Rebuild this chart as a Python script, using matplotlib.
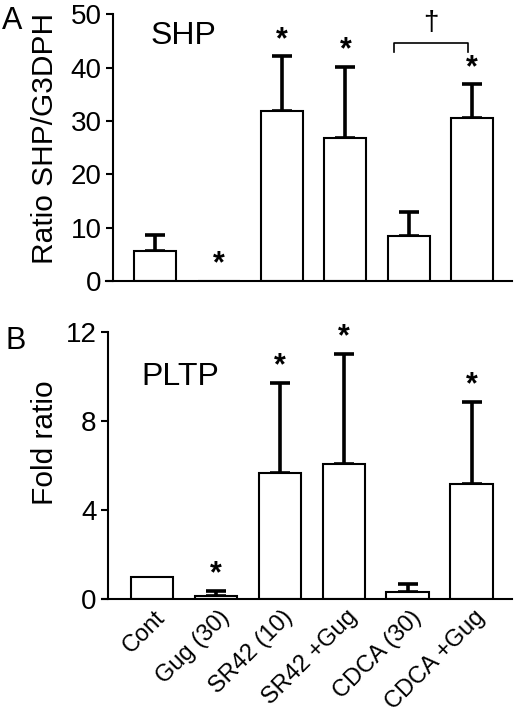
import matplotlib.pyplot as plt
import numpy as np

plt.rcParams['font.family'] = ['Liberation Sans', 'DejaVu Sans']

categories = ['Cont', 'Gug (30)', 'SR42 (10)', 'SR42 +Gug', 'CDCA (30)', 'CDCA +Gug']

# panel A: SHP
shp_mean = [5.7, 0.0, 31.9, 26.9, 8.4, 30.6]
shp_err = [2.9, 0.0, 10.2, 13.2, 4.6, 6.3]
shp_star = [False, True, True, True, False, True]

# panel B: PLTP
pltp_mean = [1.0, 0.16, 5.66, 6.05, 0.33, 5.18]
pltp_err = [0.0, 0.21, 4.05, 4.95, 0.34, 3.68]
pltp_star = [False, True, True, True, False, True]

x = np.arange(len(categories))

fig = plt.figure(figsize=(5.17, 7.16), dpi=100)
axA = fig.add_axes([0.205, 0.6075, 0.785, 0.3725])
axB = fig.add_axes([0.197, 0.163, 0.793, 0.374])


def draw_panel(ax, means, errs, stars, ymax, yticks, ylabel, spine_x):
    ax.bar(x, means, width=0.66, color='white', edgecolor='black',
           linewidth=1.5, zorder=2)
    for xi, m, e in zip(x, means, errs):
        if e > 0:
            ax.errorbar(xi, m, yerr=[[0], [e]], fmt='none', ecolor='black',
                        elinewidth=2.6, capsize=7, capthick=2.6, zorder=1)
    for xi, m, e, s in zip(x, means, errs, stars):
        if s:
            ax.annotate('*', xy=(xi, m + e), xytext=(0, 1),
                        textcoords='offset points', ha='center', va='bottom',
                        fontsize=22, fontweight='bold')
    ax.set_xlim(-0.78, 5.63)
    ax.set_ylim(0, ymax)
    ax.set_yticks(yticks)
    ax.set_xticks([])
    ax.spines['top'].set_visible(False)
    ax.spines['right'].set_visible(False)
    ax.spines['left'].set_position(('data', spine_x))
    ax.spines['left'].set_linewidth(1.5)
    ax.spines['bottom'].set_linewidth(1.5)
    ax.spines['left'].set_bounds(0, ymax)
    ax.tick_params(axis='y', direction='out', length=5, width=1.5,
                   labelsize=20, pad=3)
    ax.set_ylabel(ylabel, fontsize=21.5)


draw_panel(axA, shp_mean, shp_err, shp_star, 50, [0, 10, 20, 30, 40, 50],
           'Ratio SHP/G3DPH', -0.67)
axA.yaxis.set_label_coords(-0.115, 0.536)
axA.text(0.45, 45.9, 'SHP', fontsize=23, ha='center', va='center')

# bracket over CDCA groups
bx0, bx1 = 3.77, 4.93
axA.plot([bx0, bx0, bx1, bx1], [42.9, 44.6, 44.6, 42.9], color='black', lw=1.2)
axA.text((bx0 + bx1) / 2, 45.9, '\u2020', fontsize=20, ha='center', va='bottom')

draw_panel(axB, pltp_mean, pltp_err, pltp_star, 12, [0, 4, 8, 12],
           'Fold ratio', -0.69)
axB.yaxis.set_label_coords(-0.105, 0.586)
axB.text(0.45, 9.95, 'PLTP', fontsize=23, ha='center', va='center')

# rotated category labels under panel B
for xi, lab in zip(x, categories):
    axB.annotate(lab, xy=(xi, 0), xycoords=('data', 'axes fraction'),
                 xytext=(13, -5), textcoords='offset points',
                 rotation=45, ha='right', va='top', fontsize=17)

fig.text(0.004, 0.992, 'A', fontsize=22, va='top', ha='left')
fig.text(0.010, 0.545, 'B', fontsize=22, va='top', ha='left')

fig.savefig('out.png', dpi=100)
